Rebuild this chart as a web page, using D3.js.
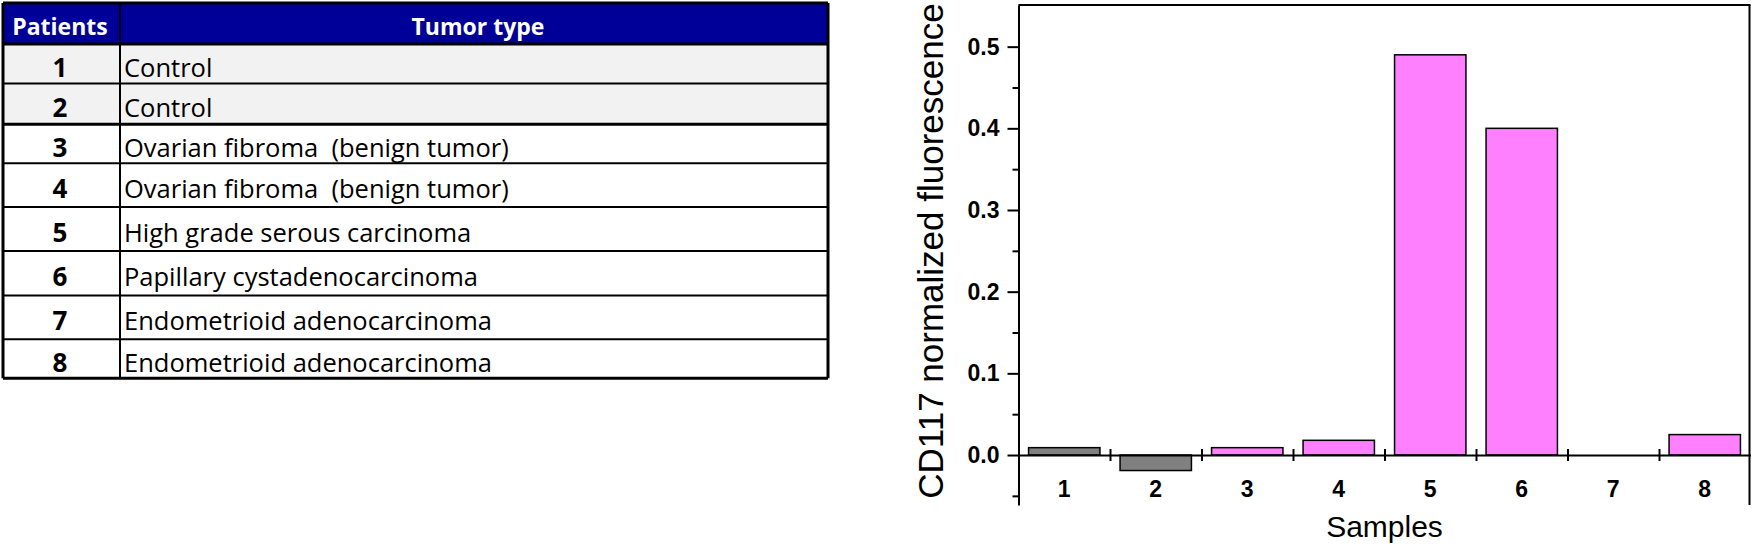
<!DOCTYPE html>
<html>
<head>
<meta charset="utf-8">
<script src="https://cdn.jsdelivr.net/npm/d3@7"></script>
<style>
  html, body { margin: 0; padding: 0; background: #fff; }
  svg { display: block; }
  text { white-space: pre; }
</style>
</head>
<body>
<svg id="chart" width="1754" height="548"></svg>
<script>
// ---------- Data ----------
const tableHeaders = ["Patients", "Tumor type"];
const patients = ["1", "2", "3", "4", "5", "6", "7", "8"];
const tumorTypes = [
  "Control",
  "Control",
  "Ovarian fibroma  (benign tumor)",
  "Ovarian fibroma  (benign tumor)",
  "High grade serous carcinoma",
  "Papillary cystadenocarcinoma",
  "Endometrioid adenocarcinoma",
  "Endometrioid adenocarcinoma"
];
const categories = ["1", "2", "3", "4", "5", "6", "7", "8"];
const values = [0.009, -0.019, 0.009, 0.018, 0.49, 0.40, 0, 0.025];
const groups = ["control", "control", "tumor", "tumor", "tumor", "tumor", "tumor", "tumor"];
const yMajorTicks = [0.0, 0.1, 0.2, 0.3, 0.4, 0.5];
const yMinorTicks = [-0.05, 0.05, 0.15, 0.25, 0.35, 0.45];
const xBoundaryTicks = [1.5, 2.5, 3.5, 4.5, 5.5, 6.5, 7.5];
const yAxisTitle = "CD117 normalized fluorescence";
const xAxisTitle = "Samples";

// ---------- Styles ----------
const groupColor = { control: "#808080", tumor: "#ff80ff" };
const svg = d3.select("#chart");
svg.append("rect").attr("width", 1754).attr("height", 548).attr("fill", "#fff");

// ---------- Table ----------
const tbl = svg.append("g");
const tLeft = 3, tRight = 828, tDiv = 120;
const rowEdges = [3, 44, 83.5, 124.3, 163.3, 207, 251, 295.5, 339.3, 378.3];
const bodyFont = "'Open Sans', 'Liberation Sans', sans-serif";

// header
tbl.append("rect").attr("x", tLeft).attr("y", rowEdges[0]).attr("width", tRight - tLeft)
  .attr("height", rowEdges[1] - rowEdges[0]).attr("fill", "#000099");
// body rows
patients.forEach((p, i) => {
  tbl.append("rect").attr("x", tLeft).attr("y", rowEdges[i + 1]).attr("width", tRight - tLeft)
    .attr("height", rowEdges[i + 2] - rowEdges[i + 1]).attr("fill", i < 2 ? "#f2f2f2" : "#ffffff");
});
// horizontal lines
rowEdges.forEach((yy, i) => {
  const thick = (i === 0 || i === 1 || i === 3 || i === rowEdges.length - 1);
  tbl.append("line").attr("x1", tLeft).attr("x2", tRight).attr("y1", yy).attr("y2", yy)
    .attr("stroke", "#000").attr("stroke-width", thick ? 3 : 2);
});
// vertical lines
[[tLeft, 3], [tDiv, 2], [tRight, 3]].forEach(([xx, w]) => {
  tbl.append("line").attr("x1", xx).attr("x2", xx).attr("y1", rowEdges[0]).attr("y2", rowEdges[rowEdges.length - 1])
    .attr("stroke", "#000").attr("stroke-width", w);
});
// header text
tbl.append("text").attr("x", 60).attr("y", 35).attr("text-anchor", "middle")
  .attr("font-family", bodyFont).attr("font-weight", "bold").attr("font-size", 23).attr("fill", "#fff")
  .text(tableHeaders[0]);
tbl.append("text").attr("x", 478).attr("y", 35).attr("text-anchor", "middle")
  .attr("font-family", bodyFont).attr("font-weight", "bold").attr("font-size", 23).attr("fill", "#fff")
  .text(tableHeaders[1]);
// body text
patients.forEach((p, i) => {
  const cy = (rowEdges[i + 1] + rowEdges[i + 2]) / 2 + 13;
  tbl.append("text").attr("x", 60).attr("y", cy).attr("text-anchor", "middle")
    .attr("font-family", bodyFont).attr("font-weight", "bold").attr("font-size", 26).attr("fill", "#000")
    .text(p);
  tbl.append("text").attr("x", 124).attr("y", cy)
    .attr("font-family", bodyFont).attr("font-size", 25.5).attr("fill", "#000")
    .text(tumorTypes[i]);
});

// ---------- Bar chart ----------
const plotL = 1018.5, plotR = 1750.5, plotT = 5, plotB = 505;
const y = d3.scaleLinear().domain([-0.0612, 0.551]).range([plotB, plotT]);
const xBand = d3.scaleBand().domain(categories).range([plotL, plotR]).paddingInner(0.22).paddingOuter(0.11);
const xLin = d3.scaleLinear().domain([0.5, 8.5]).range([plotL, plotR]);
const axisFont = "'Liberation Sans', Arial, sans-serif";
const chart = svg.append("g");

// bars
chart.selectAll("rect.bar").data(categories).enter().append("rect")
  .attr("class", "bar")
  .attr("x", d => xBand(d))
  .attr("width", xBand.bandwidth())
  .attr("y", (d, i) => y(Math.max(0, values[i])))
  .attr("height", (d, i) => Math.abs(y(values[i]) - y(0)))
  .attr("fill", (d, i) => groupColor[groups[i]])
  .attr("stroke", "#000").attr("stroke-width", 1.5);

// frame top/right
chart.append("line").attr("x1", plotL).attr("x2", plotR).attr("y1", plotT).attr("y2", plotT)
  .attr("stroke", "#000").attr("stroke-width", 2);
chart.append("line").attr("x1", plotR - 1).attr("x2", plotR - 1).attr("y1", plotT).attr("y2", plotB)
  .attr("stroke", "#000").attr("stroke-width", 2);

// y axis major
const yAxis = chart.append("g").attr("transform", `translate(${plotL},0)`)
  .call(d3.axisLeft(y).tickValues(yMajorTicks).tickFormat(d3.format(".1f")).tickSize(11).tickSizeOuter(0).tickPadding(8));
yAxis.select(".domain").attr("stroke-width", 2);
yAxis.selectAll(".tick line").attr("stroke-width", 2);
yAxis.selectAll(".tick text").attr("font-family", axisFont).attr("font-weight", "bold").attr("font-size", 23).attr("fill", "#000");
// y axis minor
const yMinor = chart.append("g").attr("transform", `translate(${plotL},0)`)
  .call(d3.axisLeft(y).tickValues(yMinorTicks).tickFormat("").tickSize(6).tickSizeOuter(0));
yMinor.select(".domain").remove();
yMinor.selectAll(".tick line").attr("stroke-width", 2);

// x axis line at zero with boundary ticks
const xAxisG = chart.append("g").attr("transform", `translate(0,${y(0)})`)
  .call(d3.axisBottom(xLin).tickValues(xBoundaryTicks).tickFormat("").tickSizeInner(6).tickSizeOuter(0));
xAxisG.select(".domain").attr("stroke-width", 2);
xAxisG.selectAll(".tick line").attr("y1", -6).attr("y2", 6).attr("stroke-width", 2);
// x labels
const xLabels = chart.append("g").attr("transform", `translate(0,${y(0)})`)
  .call(d3.axisBottom(xBand).tickSize(0).tickPadding(26));
xLabels.select(".domain").remove();
xLabels.selectAll(".tick text").attr("font-family", axisFont).attr("font-weight", "bold").attr("font-size", 23).attr("fill", "#000");

// axis titles
chart.append("text").attr("x", (plotL + plotR) / 2).attr("y", 537).attr("text-anchor", "middle")
  .attr("font-family", axisFont).attr("font-size", 30).attr("fill", "#000").text(xAxisTitle);
chart.append("text").attr("transform", `translate(943,251) rotate(-90)`).attr("text-anchor", "middle")
  .attr("font-family", axisFont).attr("font-size", 35).attr("fill", "#000").text(yAxisTitle);
</script>
</body>
</html>
